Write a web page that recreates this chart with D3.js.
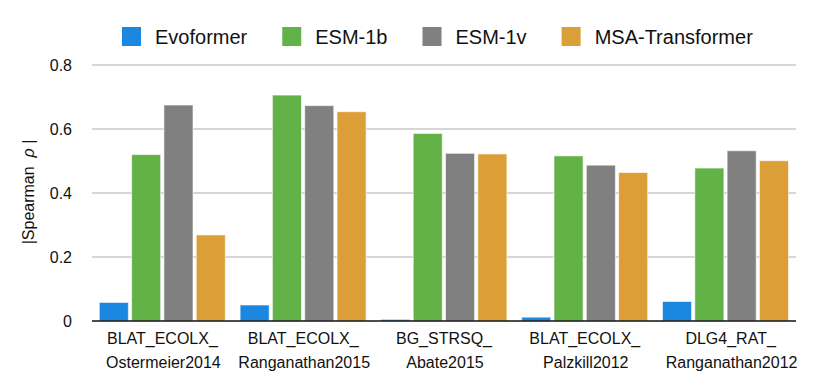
<!DOCTYPE html>
<html><head><meta charset="utf-8">
<script src="https://cdn.jsdelivr.net/npm/d3@7"></script>
<style>body{margin:0;background:#fff;} text{font-family:"Liberation Sans",Arial,Helvetica,sans-serif;fill:#111;}</style>
</head><body>
<svg id="c" width="818" height="380"></svg>
<script>
const categoriesLine1 = ["BLAT_ECOLX_", "BLAT_ECOLX_", "BG_STRSQ_", "BLAT_ECOLX_", "DLG4_RAT_"];
const categoriesLine2 = ["Ostermeier2014", "Ranganathan2015", "Abate2015", "Palzkill2012", "Ranganathan2012"];
const seriesNames = ["Evoformer", "ESM-1b", "ESM-1v", "MSA-Transformer"];
const evoformer = [0.058, 0.050, 0.005, 0.012, 0.061];
const esm1b = [0.520, 0.706, 0.586, 0.516, 0.478];
const esm1v = [0.675, 0.673, 0.524, 0.487, 0.532];
const msaTransformer = [0.269, 0.654, 0.522, 0.464, 0.501];
const yTicks = [0, 0.2, 0.4, 0.6, 0.8];
const yTickLabels = ["0", "0.2", "0.4", "0.6", "0.8"];
const colors = ["#1b87e0", "#63b248", "#808080", "#dc9e36"];

const series = [evoformer, esm1b, esm1v, msaTransformer];
const idx = d3.range(categoriesLine1.length);
const svg = d3.select("#c");

const x0 = d3.scaleBand().domain(idx).range([92, 796]).paddingInner(0).paddingOuter(0);
const x1 = d3.scaleBand().domain(d3.range(seriesNames.length)).range([7.3, 133.3]).paddingInner(0.1).paddingOuter(0);
const y = d3.scaleLinear().domain([0, 0.8]).range([321, 65]);

// gridlines
svg.append("g").selectAll("line").data(yTicks.filter(t => t > 0)).join("line")
  .attr("x1", 92).attr("x2", 796)
  .attr("y1", d => y(d)).attr("y2", d => y(d))
  .attr("stroke", "#c9c9c9").attr("stroke-width", 1.5);

// y tick labels
svg.append("g").selectAll("text").data(yTicks).join("text")
  .attr("x", 72).attr("y", d => y(d) + 5.5)
  .attr("text-anchor", "end").attr("font-size", 16)
  .text((d, i) => yTickLabels[i]);

// bars
const g = svg.append("g");
idx.forEach(ci => {
  series.forEach((s, si) => {
    g.append("rect")
      .attr("x", x0(ci) + x1(si))
      .attr("width", x1.bandwidth())
      .attr("y", y(s[ci]))
      .attr("height", y(0) - y(s[ci]))
      .attr("fill", colors[si])
      .attr("stroke", "rgba(255,255,255,0.6)").attr("stroke-width", 1);
  });
});

// axis baseline
svg.append("line").attr("x1", 92).attr("x2", 796).attr("y1", y(0)).attr("y2", y(0))
  .attr("stroke", "#111").attr("stroke-width", 1.5);

// x labels
const xl = svg.append("g");
idx.forEach(ci => {
  const cx = x0(ci) + x0.bandwidth() / 2 + (ci === 4 ? 5 : 0);
  xl.append("text").attr("x", cx).attr("y", 344).attr("text-anchor", "middle").attr("font-size", 16).text(categoriesLine1[ci]);
  xl.append("text").attr("x", cx + 1).attr("y", 368).attr("text-anchor", "middle").attr("font-size", 16).text(categoriesLine2[ci]);
});

// y axis title
const yt = svg.append("text").attr("transform", "translate(34,192) rotate(-90)")
  .attr("text-anchor", "middle").attr("font-size", 16).attr("fill", "#222");
yt.append("tspan").text("|Spearman\u00a0\u00a0");
yt.append("tspan").attr("font-style", "italic").text("\u03c1");
yt.append("tspan").text("\u00a0|");

// legend
const lg = svg.append("g");
let lx = 122;
seriesNames.forEach((n, i) => {
  lg.append("rect").attr("x", lx).attr("y", 27).attr("width", 19).attr("height", 19).attr("fill", colors[i]);
  const t = lg.append("text").attr("x", lx + 33).attr("y", 44).attr("font-size", 20).text(n);
  lx = lx + 33 + t.node().getComputedTextLength() + 35;
});
</script>
</body></html>
